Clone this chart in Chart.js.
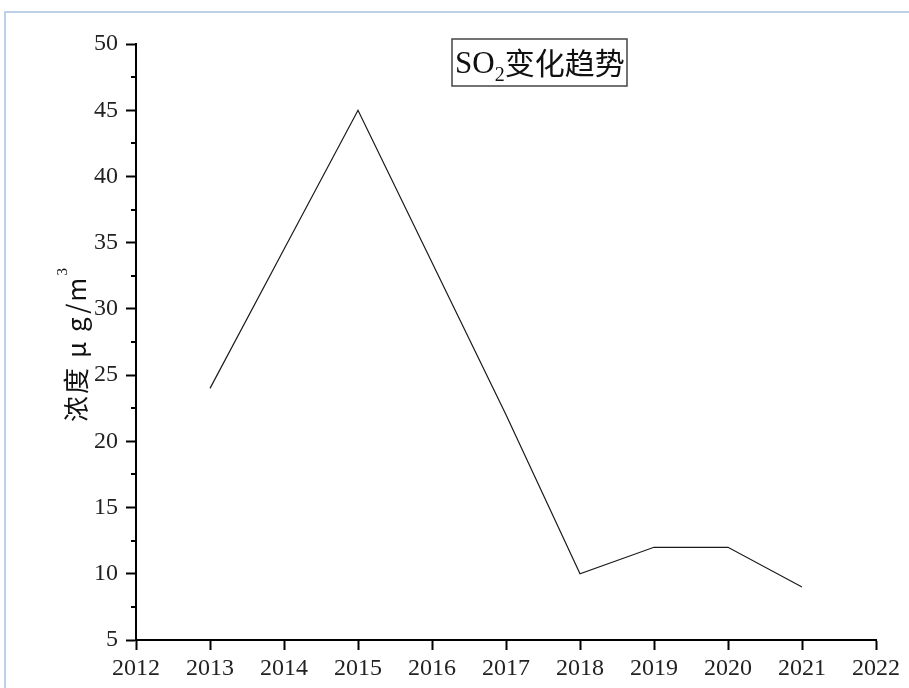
<!DOCTYPE html>
<html>
<head>
<meta charset="utf-8">
<script src="https://cdn.jsdelivr.net/npm/chart.js@4/dist/chart.umd.min.js"></script>
<style>
  html, body { margin: 0; padding: 0; background: #fff; overflow: hidden; }
  #wrap { position: relative; width: 909px; height: 688px; }
  #frame { position: absolute; left: 4px; top: 11px; width: 1000px; height: 1000px;
           border: 2px solid #bcd0e8; box-sizing: border-box; }
  #c { position: absolute; left: 0; top: 0; }
</style>
</head>
<body>
<div id="wrap">
  <div id="frame"></div>
  <canvas id="c" width="909" height="688"></canvas>
</div>
<script>
// Annual SO2 concentration (μg/m³)
const years = [2013, 2014, 2015, 2016, 2017, 2018, 2019, 2020, 2021];
const so2 = [24, 34.5, 45, 33.5, 22, 10, 12, 12, 9];

// Axis ranges and tick steps
const xRange = [2012, 2022];
const yRange = [5, 50];
const yStep = 5;

const titleMain = 'SO';
const titleSub = '2';
const titleRest = '变化趋势';
const yTitle = '浓度 μ g/m';
const yTitleSup = '3';

const serif = '"Liberation Serif", "DejaVu Serif", serif';
const cjk = '"Noto Sans CJK SC", "Noto Sans", sans-serif';

const points = years.map((y, i) => ({ x: y, y: so2[i] }));

// Minor ticks on the value axis plus the boxed title and the rotated axis title
const decor = {
  id: 'decor',
  afterDraw(chart) {
    const ctx = chart.ctx;
    const ys = chart.scales.y;
    const ticks = ys.ticks.map(t => t.value);
    ctx.save();
    ctx.strokeStyle = '#000';
    ctx.lineWidth = 2;
    for (let i = 0; i < ticks.length - 1; i++) {
      const mid = (ticks[i] + ticks[i + 1]) / 2;
      const py = Math.round(ys.getPixelForValue(mid));
      ctx.beginPath();
      ctx.moveTo(ys.right - 5, py);
      ctx.lineTo(ys.right, py);
      ctx.stroke();
    }

    // Boxed title
    const bx = 452, by = 39, bw = 175, bh = 47;
    ctx.fillStyle = '#fff';
    ctx.fillRect(bx, by, bw, bh);
    ctx.strokeStyle = '#444';
    ctx.lineWidth = 1.5;
    ctx.strokeRect(bx, by, bw, bh);
    ctx.fillStyle = '#111';
    ctx.textBaseline = 'alphabetic';
    ctx.textAlign = 'left';
    ctx.font = '31px ' + serif;
    let tx = bx + 3;
    const base = by + 34;
    ctx.fillText(titleMain, tx, base);
    tx += ctx.measureText(titleMain).width;
    ctx.font = '20px ' + serif;
    ctx.fillText(titleSub, tx, base + 8);
    tx += ctx.measureText(titleSub).width;
    ctx.font = '30px ' + cjk;
    ctx.fillText(titleRest, tx, base + 1);

    // Rotated y-axis title
    ctx.translate(76, 344);
    ctx.rotate(-Math.PI / 2);
    ctx.letterSpacing = '2px';
    ctx.font = '26px ' + cjk;
    const w1 = ctx.measureText(yTitle).width;
    ctx.font = '15px ' + serif;
    const w2 = ctx.measureText(yTitleSup).width;
    const start = -(w1 + w2) / 2;
    ctx.font = '26px ' + cjk;
    ctx.textBaseline = 'middle';
    ctx.fillText(yTitle, start, 0);
    ctx.font = '15px ' + serif;
    ctx.fillText(yTitleSup, start + w1, -13);
    ctx.restore();
  }
};

new Chart(document.getElementById('c'), {
  type: 'line',
  data: {
    datasets: [{
      data: points,
      borderColor: '#1a1a1a',
      borderWidth: 1.2,
      pointRadius: 0,
      fill: false,
      tension: 0
    }]
  },
  options: {
    responsive: false,
    animation: false,
    devicePixelRatio: 1,
    layout: { padding: { left: 0, top: 44, right: 33, bottom: 0 } },
    plugins: { legend: { display: false }, tooltip: { enabled: false }, title: { display: false } },
    scales: {
      x: {
        type: 'linear',
        min: xRange[0],
        max: xRange[1],
        ticks: {
          stepSize: 1,
          autoSkip: false,
          maxRotation: 0,
          color: '#222',
          font: { family: serif, size: 24 },
          padding: 4,
          callback: v => String(v)
        },
        grid: { drawOnChartArea: false, drawTicks: true, tickLength: 10, tickWidth: 2, tickColor: '#000' },
        border: { display: true, color: '#000', width: 2 },
        afterFit: s => { s.height = 48; }
      },
      y: {
        type: 'linear',
        min: yRange[0],
        max: yRange[1],
        ticks: {
          stepSize: yStep,
          color: '#222',
          font: { family: serif, size: 24 },
          padding: 8,
          callback: v => String(v)
        },
        grid: { drawOnChartArea: false, drawTicks: true, tickLength: 10, tickWidth: 2, tickColor: '#000' },
        border: { display: true, color: '#000', width: 2 },
        afterFit: s => { s.width = 136; }
      }
    }
  },
  plugins: [decor]
});
</script>
</body>
</html>
